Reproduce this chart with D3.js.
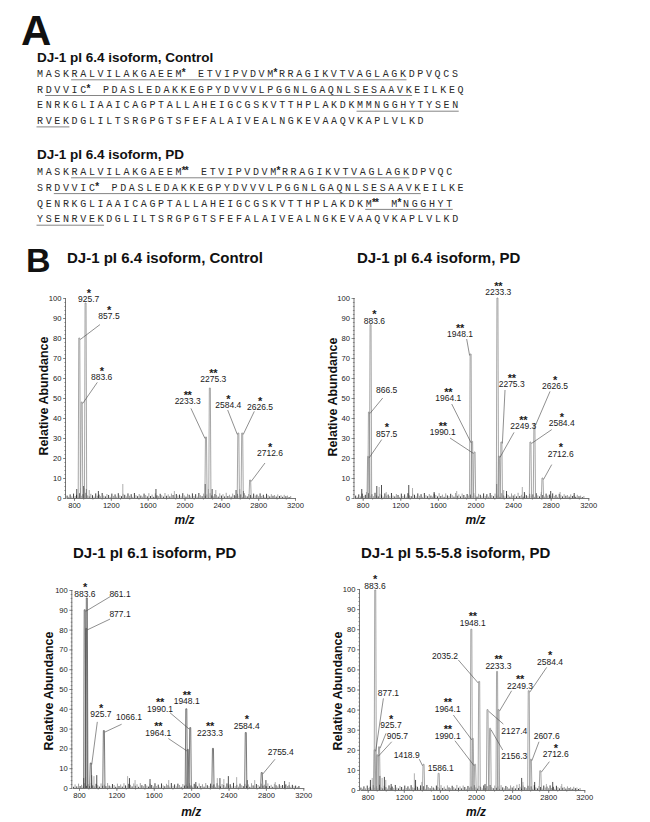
<!DOCTYPE html>
<html><head><meta charset="utf-8">
<script src="https://cdn.jsdelivr.net/npm/d3@7"></script>
<style>body{margin:0;background:#fff}svg{display:block}</style>
</head><body>
<script>
// ---------------- DATA ----------------
const ctrlSeq = [
 "MASKRALVILAKGAEEM* ETVIPVDVM*RRAGIKVTVAGLAGKDPVQCS",
 "RDVVIC* PDASLEDAKKEGPYDVVVLPGGNLGAQNLSESAAVKEILKEQ",
 "ENRKGLIAAICAGPTALLAHEIGCGSKVTTHPLAKDKMMNGGHYTYSEN",
 "RVEKDGLILTSRGPGTSFEFALAIVEALNGKEVAAQVKAPLVLKD"];
const ctrlUnder = ["RALVILAKGAEEM* ETVIPVDVM*RRAGIKVTVAGLAGK","DVVIC* PDASLEDAKKEGPYDVVVLPGGNLGAQNLSESAAVK","MMNGGHYTYSEN","RVEK"];
const pdSeq = [
 "MASKRALVILAKGAEEM** ETVIPVDVM*RRAGIKVTVAGLAGKDPVQC",
 "SRDVVIC* PDASLEDAKKEGPYDVVVLPGGNLGAQNLSESAAVKEILKE",
 "QENRKGLIAAICAGPTALLAHEIGCGSKVTTHPLAKDKM** M*NGGHYT",
 "YSENRVEKDGLILTSRGPGTSFEFALAIVEALNGKEVAAQVKAPLVLKD"];
const pdUnder = ["RALVILAKGAEEM** ETVIPVDVM*RRAGIKVTVAGLAGK","DVVIC* PDASLEDAKKEGPYDVVVLPGGNLGAQNLSESAAVK","M** M*NGGHYT","YSENRVEK"];

const yTicks = [0,10,20,30,40,50,60,70,80,90,100];
const xTicks = [800,1200,1600,2000,2400,2800,3200];

// labelled peaks: [m/z, relative abundance, number of stars]
const p1Peaks = [[857.5,80,1],[883.6,48,1],[925.7,97.5,1],[2233.3,30.5,2],[2275.3,55,2],[2584.4,32.5,1],[2626.5,32.5,1],[2712.6,9,1]];
const p2Peaks = [[857.5,20.8,1],[866.5,43,0],[883.6,86.7,1],[1948.1,72,2],[1964.1,28.3,2],[1990.1,23,2],[2233.3,100,2],[2249.3,21,2],[2275.3,28,2],[2584.4,28,1],[2626.5,37,1],[2712.6,10,1]];
const p3Peaks = [[861.1,90,0],[877.1,80.6,0],[883.6,96,1],[925.7,12.6,1],[1066.1,29,0],[1948.1,40,2],[1964.1,19.5,2],[1990.1,30.5,2],[2233.3,20,2],[2584.4,28,1],[2755.4,7.8,0]];
const p4Peaks = [[877.1,20,0],[883.6,99.5,1],[905.7,17.5,0],[925.7,21.5,1],[1418.9,12.8,0],[1586.1,8.3,0],[1948.1,80,2],[1964.1,25.7,2],[1990.1,12.8,2],[2035.2,54,0],[2127.4,40,0],[2156.3,30.7,0],[2233.3,59,2],[2249.3,40,2],[2584.4,49.4,1],[2607.6,15.3,0],[2712.6,9.6,1]];

// small unlabelled peaks: [m/z, relative abundance]
const p1Spikes = [[830,4.5],[870,5],[905,6],[915,5],[935,4.5],[965,4],[1065,3.5],[1330,7],[1690,4.5],[1890,3.5],[2225,7],[2260,4.5],[2300,4.5],[2340,4],[2560,4],[2600,4.5],[2640,3.5]];
const p2Spikes = [[790,4.5],[840,3],[950,6],[975,5.5],[1000,6.5],[1050,3],[1290,6.5],[1330,5],[1560,3],[1800,3.5],[2225,7],[2300,4],[2330,3.5],[2498,5.5],[2520,3],[2700,3],[2800,3.5],[2900,3],[3050,2.5]];
const p3Spikes = [[850,5],[870,5.5],[935,6.5],[960,6],[990,6.5],[1320,6],[1340,5],[1400,4],[1560,4.5],[1760,4],[2050,3],[2280,5],[2308,5],[2350,4.5],[2398,6],[2487,5.5],[2600,4],[2680,4],[2800,4],[2900,3],[3000,3.5],[3050,3]];
const p4Spikes = [[712,40],[830,5],[850,6],[935,7],[960,6],[985,6.5],[1000,5],[1060,3],[1317,8.3],[1330,5],[1400,4],[2100,3],[2480,3],[2506,6],[2520,4],[2650,4],[2780,3],[2850,4],[2950,3]];

// baseline noise: [m/z, relative abundance]
const baselineNoise = [[725,1.2],[742,0.6],[758,1.8],[776,0.8],[795,2.2],[812,1.0],[828,1.6],[846,0.7],[862,2.4],[879,1.1],[897,1.9],[914,0.9],[931,2.6],[948,1.3],[966,0.8],[983,2.1],[1001,1.4],[1018,0.7],[1036,2.3],[1053,1.1],[1071,1.7],[1088,0.9],[1106,2.5],[1123,1.2],[1141,0.8],[1158,2.0],[1176,1.5],[1193,0.6],[1211,2.2],[1228,1.0],[1246,1.8],[1263,0.7],[1281,2.4],[1298,1.3],[1316,0.9],[1333,2.1],[1351,1.6],[1368,0.8],[1386,2.3],[1403,1.1],[1421,1.9],[1438,0.6],[1456,2.5],[1473,1.4],[1491,0.9],[1508,2.0],[1526,1.2],[1543,0.7],[1561,2.2],[1578,1.5],[1596,0.8],[1613,2.4],[1631,1.0],[1648,1.7],[1666,0.6],[1683,2.3],[1701,1.3],[1718,0.9],[1736,2.1],[1753,1.4],[1771,0.7],[1788,2.5],[1806,1.1],[1823,1.8],[1841,0.8],[1858,2.2],[1876,1.5],[1893,0.6],[1911,2.0],[1928,1.2],[1946,1.7],[1963,0.9],[1981,2.4],[1998,1.3],[2016,0.7],[2033,2.1],[2051,1.6],[2068,0.8],[2086,2.3],[2103,1.0],[2121,1.9],[2138,0.7],[2156,2.5],[2173,1.4],[2191,0.9],[2208,2.2],[2226,1.1],[2243,1.8],[2261,0.6],[2278,2.4],[2296,1.3],[2313,0.8],[2331,2.0],[2348,1.5],[2366,0.7],[2383,2.3],[2401,1.2],[2418,1.9],[2436,0.8],[2453,2.6],[2471,1.0],[2488,1.6],[2506,0.7],[2523,2.2],[2541,1.4],[2558,0.9],[2576,2.1],[2593,1.1],[2611,1.8],[2628,0.6],[2646,2.4],[2663,1.3],[2681,0.8],[2698,2.0],[2716,1.5],[2733,0.7],[2751,2.2],[2768,1.2],[2786,1.7],[2803,0.9],[2821,2.3],[2838,1.0],[2856,1.6],[2873,0.6],[2891,2.1],[2908,1.4],[2926,0.8],[2943,1.9],[2961,1.1],[2978,1.5],[2996,0.7],[3013,1.8],[3031,1.0],[3048,1.4],[3066,0.6],[3083,1.6],[3101,0.9],[3118,1.2],[3136,0.5],[3153,1.0]];

// ---------------- ANNOTATION LAYOUT (label anchor & leader end, in data units) ----------------
const p1Lab = [[1180,91,1082,86.7],[1100,60.5,1053,57.8],[959,99.5],[2034,48.3,2070,44.8],[2313,59.5],[2476,46.3,2469,44],[2820,45.5,2758,43.3],[2928,22.5,2874,17.5]];
const p2Lab = [[1055,32.2,1002,29.2],[1055,54,1013,50],[924,88.7],[1835,82,1906,79.5],[1711,50,1747,47],[1651,32.8,1729,30],[2243,102.8],[2509,35.8,2410,32.8],[2385,57,2314,54],[2917,37.5,2811,34.2],[2846,55.8,2793,53.3],[2906,22.2,2811,16.7]];
const p3Lab = [[1239,98,1132,96.6],[1239,87.7,1132,85.3],[864,98],[1035,37.3,996,33.4],[1335,36,1256,32.2],[1952,43.8],[1649,27.8,1756,25],[1667,40.1,1774,38],[2202,28],[2594,31.4],[2958,18.2,2897,14.5]];
const p4Lab = [[1029,48.4,974,45.6],[881,101.5],[1129,27,1066,24],[1058,32.3,1003,28.2],[1232,17.4,1372,15.3],[1609,11.1],[1963,83.3],[1686,40.3,1749,37.3],[1686,26.9,1767,24.5],[1657,66.7,1804,64.7],[2425,29.5,2303,32.8],[2425,16.9,2296,19.9],[2248,61.9],[2488,51.9,2395,49.4],[2820,63.8,2783,61],[2783,26.9,2698,24],[2883,17.7,2813,14.1]];

// ---------------- DRAW ----------------
const W=650,H=822;
const SANS='"Liberation Sans", Arial, Helvetica, sans-serif';
const svg=d3.select("body").append("svg").attr("width",W).attr("height",H);
svg.append("rect").attr("width",W).attr("height",H).attr("fill","#fff");

// Section letters
svg.append("text").attr("x",21).attr("y",45).attr("font-family",SANS).attr("font-weight","bold").attr("font-size",42).attr("fill","#111").text("A");
svg.append("text").attr("x",26).attr("y",272).attr("font-family",SANS).attr("font-weight","bold").attr("font-size",34).attr("fill","#111").text("B");

// Sequences
function drawSeq(title, lines, unders, titleY, base, dy){
  const g=svg.append("g");
  g.append("text").attr("x",37).attr("y",titleY).attr("font-family",SANS).attr("font-weight","bold")
    .attr("font-size",13.5).attr("fill","#111").text(title);
  const pitch=8.65, x0=37, lw=6;
  lines.forEach((s,li)=>{
    const y=base+li*dy; let cx=x0; const pos=[];
    for(const ch of s){
      if(ch==='*'){
        g.append("text").attr("x",cx-2.4).attr("y",y-0.8).attr("font-family",SANS).attr("font-size",10)
          .attr("font-weight","bold").attr("fill","#222").text("*");
        pos.push({x:cx-2.4,w:3}); cx+=3;
      } else if(ch===' '){ pos.push({x:cx,w:11}); cx+=11; }
      else {
        g.append("text").attr("x",cx).attr("y",y).attr("font-family",'"Liberation Mono", "DejaVu Sans Mono", monospace')
          .attr("font-size",10).attr("fill","#2a2a2a").text(ch);
        pos.push({x:cx,w:lw}); cx+=pitch;
      }
    }
    const u=unders[li]; const i0=s.indexOf(u);
    if(i0>=0){
      const a=pos[i0].x-0.5, e=pos[i0+u.length-1]; const b=e.x+e.w+0.5;
      g.append("line").attr("x1",a).attr("x2",b).attr("y1",y+2.8).attr("y2",y+2.8)
        .attr("stroke","#777").attr("stroke-width",0.9);
    }
  });
}
drawSeq("DJ-1 pI 6.4 isoform, Control", ctrlSeq, ctrlUnder, 62, 77, 15.7);
drawSeq("DJ-1 pI 6.4 isoform, PD", pdSeq, pdUnder, 159, 175, 15.8);

// Spectra
const panels=[
 {title:"DJ-1 pI 6.4 isoform, Control", tx:67, ty:262.5, x800:74, x3200:295, y0:498, y100:298, axisX:66, ylx:44, yly:396, xly:524, peaks:p1Peaks, lab:p1Lab, spikes:p1Spikes, pc:"#8f8f8f"},
 {title:"DJ-1 pI 6.4 isoform, PD", tx:357, ty:263, x800:362.7, x3200:588.3, y0:498, y100:298, axisX:354.5, ylx:333, yly:397, xly:524, peaks:p2Peaks, lab:p2Lab, spikes:p2Spikes, pc:"#8f8f8f"},
 {title:"DJ-1 pI 6.1 isoform, PD", tx:73, ty:558, x800:79, x3200:303.3, y0:788, y100:590, axisX:72.3, ylx:48.5, yly:691, xly:816, peaks:p3Peaks, lab:p3Lab, spikes:p3Spikes, pc:"#555"},
 {title:"DJ-1 pI 5.5-5.8 isoform, PD", tx:361, ty:558, x800:367.7, x3200:584.3, y0:790, y100:589, axisX:360, ylx:338, yly:691, xly:816, peaks:p4Peaks, lab:p4Lab, spikes:p4Spikes, pc:"#8f8f8f"}
];

panels.forEach(p=>{
  const g=svg.append("g");
  const x=d3.scaleLinear().domain([800,3200]).range([p.x800,p.x3200]);
  const xStart=x.invert(p.axisX);
  const xa=d3.scaleLinear().domain([xStart,3200]).range([p.axisX,p.x3200]);
  const y=d3.scaleLinear().domain([0,100]).range([p.y0,p.y100]);

  g.append("text").attr("x",p.tx).attr("y",p.ty).attr("font-family",SANS).attr("font-weight","bold")
    .attr("font-size",15).attr("fill","#111").text(p.title);

  // noise
  g.append("g").selectAll("line").data(baselineNoise.filter(d=>d[0]>=xStart)).join("line")
    .attr("x1",d=>x(d[0])).attr("x2",d=>x(d[0])).attr("y1",y(0)).attr("y2",d=>y(d[1]))
    .attr("stroke",(d,i)=>i%2?"#888":"#111").attr("stroke-width",0.8);
  g.append("g").selectAll("line").data(p.spikes.filter(d=>d[0]>=xStart)).join("line")
    .attr("x1",d=>x(d[0])).attr("x2",d=>x(d[0])).attr("y1",y(0)).attr("y2",d=>y(d[1]))
    .attr("stroke",(d,i)=>d[1]>20?"#aaa":(i%2?"#999":"#222")).attr("stroke-width",0.8);

  // main peaks
  g.append("g").selectAll("path").data(p.peaks).join("path")
    .attr("d",d=>{const px=x(d[0]),t=y(d[1]),b=y(0);return `M${px-1.1},${b}L${px-0.5},${t}L${px+0.5},${t}L${px+1.1},${b}`;})
    .attr("fill","none").attr("stroke",p.pc).attr("stroke-width",0.8);

  // axes
  const yAx=g.append("g").attr("transform",`translate(${p.axisX},0)`)
    .call(d3.axisLeft(y).tickValues(yTicks).tickSize(3).tickPadding(1.5).tickFormat(d3.format("d")));
  g.append("g").attr("transform",`translate(${p.axisX},0)`)
    .call(d3.axisLeft(y).tickValues(d3.range(0,101,2)).tickSize(1.6).tickFormat("")).select(".domain").remove();
  g.append("g").attr("transform",`translate(0,${p.y0})`)
    .call(d3.axisBottom(xa).tickValues(xTicks).tickSize(3).tickPadding(2).tickSizeOuter(0).tickFormat(d3.format("d")));
  g.append("g").attr("transform",`translate(0,${p.y0})`)
    .call(d3.axisBottom(xa).tickValues(d3.range(800,3201,100)).tickSize(1.6).tickFormat("")).select(".domain").remove();
  g.selectAll(".domain").attr("stroke","#666").attr("stroke-width",0.9);
  g.selectAll(".tick line").attr("stroke","#666").attr("stroke-width",0.7);
  g.selectAll(".tick text").attr("font-family",SANS).attr("font-size",7.6).attr("fill","#222");
  yAx.select(".domain").attr("d",`M-0.5,${p.y100}V${p.y0}`);

  g.append("text").attr("transform",`translate(${p.ylx},${p.yly}) rotate(-90)`).attr("text-anchor","middle")
    .attr("dominant-baseline","central").attr("font-family",SANS).attr("font-weight","bold").attr("font-size",12.5)
    .attr("fill","#111").text("Relative Abundance");
  g.append("text").attr("x",(p.x800+p.x3200)/2).attr("y",p.xly).attr("text-anchor","middle")
    .attr("font-family",SANS).attr("font-weight","bold").attr("font-style","italic").attr("font-size",12)
    .attr("fill","#111").text("m/z");

  // annotations
  p.peaks.forEach((d,i)=>{
    const L=p.lab[i]; if(!L) return;
    const lx=x(L[0]), ly=y(L[1]);
    g.append("text").attr("x",lx).attr("y",ly+3).attr("text-anchor","middle").attr("font-family",SANS)
      .attr("font-size",8.5).attr("fill","#1a1a1a").text(d[0].toFixed(1));
    if(d[2]>0){
      g.append("text").attr("x",lx).attr("y",ly-2.5).attr("text-anchor","middle").attr("font-family",SANS)
        .attr("font-weight","bold").attr("font-size",11).attr("letter-spacing",-0.3).attr("fill","#1a1a1a").text("*".repeat(d[2]));
    }
    if(L.length>2){
      const px=x(d[0]), pt=y(d[1]);
      const side = x(L[2])>px?1:-1;
      g.append("line").attr("x1",px+side*1).attr("y1",pt+1.5).attr("x2",x(L[2])).attr("y2",y(L[3]))
        .attr("stroke","#444").attr("stroke-width",0.6);
    }
  });
});
</script>
</body></html>
